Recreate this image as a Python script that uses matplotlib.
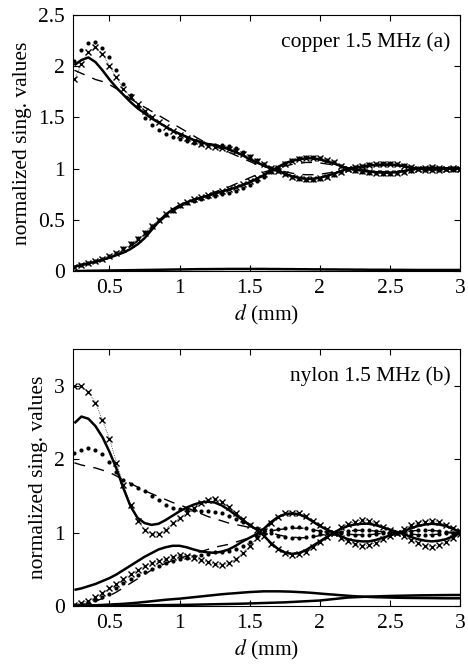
import numpy as np
import matplotlib
matplotlib.use("Agg")
import matplotlib.pyplot as plt

plt.rcParams["font.family"] = ["Liberation Serif", "DejaVu Serif"]
plt.rcParams["mathtext.fontset"] = "stix"
plt.rcParams["font.size"] = 15.5

# plate thickness grid (mm), step 0.05 from 0.25 to 3.00
d = np.round(np.arange(0.25, 3.001, 0.05), 2)

# ---------------- copper 1.5 MHz (a) ----------------
cu_sol_up = [2.01, 2.06, 2.085, 2.04, 1.96, 1.87, 1.79, 1.72, 1.65, 1.59,
             1.54, 1.49, 1.45, 1.41, 1.37, 1.34, 1.31, 1.28, 1.26, 1.24,
             1.23, 1.21, 1.19, 1.16, 1.13, 1.09, 1.06, 1.03, 1.005, 0.98,
             0.95, 0.925, 0.91, 0.90, 0.90, 0.91, 0.93, 0.95, 0.975, 1.0,
             1.01, 1.02, 1.03, 1.035, 1.04, 1.04, 1.035, 1.025, 1.01, 1.0,
             0.995, 0.99, 0.995, 1.0, 1.0, 1.0]
cu_sol_low = [0.04, 0.06, 0.075, 0.09, 0.11, 0.13, 0.155, 0.18, 0.215, 0.26,
              0.32, 0.40, 0.48, 0.55, 0.60, 0.64, 0.67, 0.695, 0.715, 0.735,
              0.755, 0.775, 0.795, 0.815, 0.84, 0.865, 0.90, 0.935, 0.975, 1.015,
              1.05, 1.075, 1.09, 1.10, 1.10, 1.09, 1.07, 1.05, 1.025, 1.0,
              0.99, 0.98, 0.97, 0.965, 0.96, 0.96, 0.965, 0.975, 0.99, 1.0,
              1.005, 1.01, 1.005, 1.0, 1.0, 1.0]
cu_sol_3 = [0.0, 0.0, 0.002, 0.003, 0.004, 0.005, 0.006, 0.007, 0.008, 0.009,
            0.01, 0.011, 0.012, 0.013, 0.014, 0.015, 0.016, 0.017, 0.018, 0.018,
            0.019, 0.019, 0.02, 0.02, 0.02, 0.02, 0.02, 0.02, 0.019, 0.019,
            0.018, 0.018, 0.017, 0.017, 0.016, 0.016, 0.015, 0.015, 0.014, 0.014,
            0.013, 0.013, 0.012, 0.012, 0.012, 0.011, 0.011, 0.011, 0.01, 0.01,
            0.01, 0.01, 0.01, 0.01, 0.01, 0.01]
cu_dash_up = [1.96, 1.93, 1.90, 1.87, 1.85, 1.82, 1.78, 1.73, 1.68, 1.64,
              1.60, 1.56, 1.52, 1.48, 1.44, 1.40, 1.36, 1.32, 1.28, 1.25,
              1.22, 1.19, 1.16, 1.13, 1.10, 1.07, 1.04, 1.02, 1.0, 0.985,
              0.97, 0.955, 0.945, 0.94, 0.94, 0.945, 0.955, 0.965, 0.98, 0.99,
              1.0, 1.01, 1.02, 1.025, 1.03, 1.03, 1.025, 1.02, 1.01, 1.0,
              0.995, 0.99, 0.995, 1.0, 1.0, 1.0]
cu_dash_low = [0.04, 0.055, 0.07, 0.085, 0.105, 0.13, 0.16, 0.195, 0.24, 0.29,
               0.35, 0.41, 0.47, 0.53, 0.58, 0.625, 0.66, 0.69, 0.72, 0.745,
               0.77, 0.795, 0.82, 0.85, 0.88, 0.91, 0.94, 0.965, 0.985, 1.005,
               1.025, 1.04, 1.05, 1.06, 1.06, 1.055, 1.045, 1.035, 1.02, 1.01,
               1.0, 0.99, 0.98, 0.975, 0.97, 0.97, 0.975, 0.98, 0.99, 1.0,
               1.005, 1.01, 1.005, 1.0, 1.0, 1.0]
cu_x_up = [1.87, 2.02, 2.14, 2.19, 2.12, 2.00, 1.89, 1.78, 1.70, 1.63,
           1.56, 1.50, 1.45, 1.41, 1.37, 1.33, 1.30, 1.27, 1.24, 1.22,
           1.21, 1.20, 1.19, 1.17, 1.14, 1.11, 1.07, 1.04, 1.01, 0.98,
           0.95, 0.92, 0.905, 0.895, 0.895, 0.905, 0.92, 0.945, 0.97, 1.0,
           1.015, 1.025, 1.035, 1.04, 1.045, 1.045, 1.04, 1.03, 1.015, 1.0,
           0.99, 0.985, 0.99, 1.0, 1.005, 1.0]
cu_x_low = [0.04, 0.06, 0.08, 0.10, 0.12, 0.15, 0.18, 0.21, 0.26, 0.31,
            0.37, 0.44, 0.50, 0.56, 0.60, 0.64, 0.67, 0.70, 0.72, 0.74,
            0.76, 0.78, 0.80, 0.82, 0.85, 0.88, 0.91, 0.945, 0.98, 1.01,
            1.045, 1.07, 1.09, 1.10, 1.105, 1.10, 1.085, 1.06, 1.03, 1.0,
            0.985, 0.975, 0.965, 0.96, 0.955, 0.955, 0.96, 0.97, 0.985, 1.0,
            1.01, 1.015, 1.01, 1.0, 0.995, 1.0]
cu_dot_up = [2.05, 2.16, 2.23, 2.24, 2.18, 2.09, 1.96, 1.83, 1.72, 1.60,
             1.49, 1.43, 1.38, 1.34, 1.31, 1.29, 1.27, 1.25, 1.24, 1.23,
             1.23, 1.23, 1.22, 1.20, 1.16, 1.12, 1.08, 1.04, 1.01, 0.98,
             0.95, 0.92, 0.90, 0.89, 0.89, 0.90, 0.915, 0.94, 0.97, 1.0,
             1.02, 1.03, 1.04, 1.045, 1.05, 1.05, 1.045, 1.035, 1.02, 1.005,
             0.99, 0.985, 0.99, 1.0, 1.01, 1.0]
cu_dot_low = [0.04, 0.06, 0.08, 0.10, 0.12, 0.15, 0.18, 0.22, 0.27, 0.32,
              0.38, 0.44, 0.50, 0.55, 0.59, 0.63, 0.66, 0.68, 0.70, 0.72,
              0.73, 0.75, 0.76, 0.78, 0.81, 0.84, 0.88, 0.92, 0.97, 1.01,
              1.05, 1.08, 1.10, 1.11, 1.11, 1.10, 1.085, 1.06, 1.03, 1.0,
              0.98, 0.97, 0.96, 0.955, 0.95, 0.95, 0.955, 0.965, 0.98, 0.995,
              1.01, 1.015, 1.01, 1.0, 0.99, 1.0]

# ---------------- nylon 1.5 MHz (b) ----------------
ny_sol_up = [2.49, 2.58, 2.55, 2.45, 2.30, 2.10, 1.87, 1.60, 1.36, 1.20,
             1.13, 1.105, 1.12, 1.17, 1.23, 1.29, 1.34, 1.38, 1.41, 1.42,
             1.41, 1.37, 1.31, 1.24, 1.17, 1.10, 1.04, 0.96, 0.86, 0.78,
             0.73, 0.71, 0.72, 0.76, 0.82, 0.88, 0.94, 1.00, 1.05, 1.09,
             1.11, 1.12, 1.12, 1.10, 1.07, 1.04, 1.01, 0.98, 0.94, 0.91,
             0.89, 0.88, 0.89, 0.91, 0.95, 0.99]
ny_sol_low = [0.22, 0.24, 0.27, 0.30, 0.34, 0.38, 0.43, 0.49, 0.55, 0.61,
              0.67, 0.72, 0.77, 0.80, 0.82, 0.82, 0.80, 0.77, 0.745, 0.73,
              0.725, 0.74, 0.77, 0.82, 0.88, 0.93, 0.98, 1.05, 1.14, 1.21,
              1.25, 1.26, 1.25, 1.21, 1.15, 1.09, 1.04, 1.0, 0.95, 0.91,
              0.89, 0.88, 0.88, 0.90, 0.93, 0.96, 0.99, 1.02, 1.06, 1.09,
              1.11, 1.12, 1.11, 1.09, 1.05, 1.01]
ny_sol_3 = [0.0, 0.005, 0.008, 0.01, 0.015, 0.02, 0.025, 0.03, 0.037, 0.045,
            0.055, 0.065, 0.075, 0.085, 0.093, 0.10, 0.11, 0.12, 0.13, 0.14,
            0.15, 0.16, 0.168, 0.175, 0.183, 0.19, 0.195, 0.2, 0.2, 0.2,
            0.198, 0.195, 0.19, 0.185, 0.178, 0.17, 0.162, 0.155, 0.147, 0.14,
            0.133, 0.128, 0.124, 0.12, 0.118, 0.115, 0.113, 0.111, 0.11, 0.109,
            0.108, 0.107, 0.106, 0.105, 0.105, 0.105]
ny_sol_4 = [0.0, 0.0, 0.001, 0.001, 0.002, 0.003, 0.004, 0.005, 0.006, 0.008,
            0.01, 0.011, 0.012, 0.013, 0.014, 0.015, 0.016, 0.018, 0.02, 0.022,
            0.024, 0.026, 0.028, 0.03, 0.032, 0.035, 0.038, 0.041, 0.044, 0.047,
            0.05, 0.055, 0.06, 0.065, 0.07, 0.075, 0.085, 0.095, 0.105, 0.115,
            0.12, 0.124, 0.128, 0.131, 0.134, 0.137, 0.139, 0.141, 0.143, 0.145,
            0.146, 0.147, 0.148, 0.149, 0.15, 0.15]
ny_dash_up = [1.95, 1.92, 1.90, 1.88, 1.85, 1.82, 1.77, 1.72, 1.67, 1.62,
              1.57, 1.53, 1.49, 1.45, 1.41, 1.38, 1.34, 1.30, 1.26, 1.22,
              1.19, 1.16, 1.13, 1.11, 1.09, 1.07, 1.05, 1.03, 1.0, 0.97,
              0.95, 0.94, 0.93, 0.93, 0.94, 0.96, 0.98, 1.0, 1.01, 1.02,
              1.03, 1.03, 1.03, 1.02, 1.01, 1.0, 1.0, 0.99, 0.98, 0.97,
              0.97, 0.97, 0.98, 0.99, 1.0, 1.0]
ny_dash_low = [0.01, 0.02, 0.04, 0.07, 0.10, 0.14, 0.19, 0.25, 0.31, 0.37,
               0.43, 0.49, 0.54, 0.58, 0.62, 0.65, 0.68, 0.71, 0.74, 0.77,
               0.80, 0.82, 0.84, 0.87, 0.90, 0.93, 0.96, 0.99, 1.02, 1.04,
               1.05, 1.06, 1.06, 1.06, 1.04, 1.02, 1.01, 1.0, 0.99, 0.98,
               0.97, 0.97, 0.97, 0.98, 0.99, 1.0, 1.0, 1.01, 1.02, 1.03,
               1.03, 1.03, 1.02, 1.01, 1.0, 1.0]
ny_x_up = [2.99, 2.99, 2.92, 2.77, 2.53, 2.28, 1.95, 1.65, 1.38, 1.16,
           1.04, 0.98, 0.98, 1.04, 1.13, 1.20, 1.27, 1.34, 1.40, 1.45,
           1.46, 1.42, 1.35, 1.27, 1.19, 1.11, 1.04, 0.95, 0.85, 0.77,
           0.72, 0.70, 0.71, 0.74, 0.80, 0.87, 0.94, 1.0, 1.07, 1.12,
           1.15, 1.17, 1.16, 1.13, 1.08, 1.04, 1.0, 0.95, 0.90, 0.86,
           0.82, 0.81, 0.83, 0.87, 0.93, 0.98]
ny_x_low = [0.02, 0.04, 0.07, 0.12, 0.18, 0.24, 0.30, 0.37, 0.43, 0.49,
            0.54, 0.58, 0.61, 0.64, 0.67, 0.69, 0.68, 0.65, 0.62, 0.60,
            0.57, 0.56, 0.58, 0.64, 0.72, 0.82, 0.92, 1.02, 1.13, 1.21,
            1.26, 1.27, 1.26, 1.22, 1.16, 1.10, 1.05, 1.0, 0.93, 0.88,
            0.84, 0.82, 0.83, 0.86, 0.91, 0.96, 1.0, 1.05, 1.10, 1.13,
            1.15, 1.16, 1.14, 1.11, 1.06, 1.02]
ny_dot_up = [2.08, 2.13, 2.15, 2.13, 2.07, 1.96, 1.82, 1.71, 1.66, 1.61,
             1.56, 1.50, 1.44, 1.38, 1.34, 1.32, 1.31, 1.31, 1.30, 1.29,
             1.28, 1.26, 1.23, 1.19, 1.15, 1.10, 1.06, 1.03, 0.99, 0.96,
             0.94, 0.93, 0.93, 0.94, 0.96, 0.98, 0.99, 1.0, 1.01, 1.02,
             1.03, 1.03, 1.03, 1.02, 1.01, 1.0, 1.0, 0.99, 0.98, 0.97,
             0.97, 0.97, 0.98, 0.99, 1.0, 1.0]
ny_dot_low = [0.01, 0.03, 0.05, 0.08, 0.12, 0.17, 0.24, 0.31, 0.37, 0.42,
              0.47, 0.51, 0.55, 0.58, 0.61, 0.635, 0.66, 0.68, 0.70, 0.715,
              0.73, 0.74, 0.755, 0.78, 0.82, 0.87, 0.94, 1.0, 1.03, 1.05,
              1.06, 1.07, 1.07, 1.06, 1.04, 1.02, 1.01, 1.0, 0.99, 0.98,
              0.97, 0.97, 0.97, 0.98, 0.99, 1.0, 1.0, 1.01, 1.02, 1.03,
              1.03, 1.03, 1.02, 1.01, 1.0, 1.0]

x_ticks = [0.5, 1, 1.5, 2, 2.5, 3]
x_ticklabels = ["0.5", "1", "1.5", "2", "2.5", "3"]
cu_yticks = [0, 0.5, 1, 1.5, 2, 2.5]
cu_yticklabels = ["0", "0.5", "1", "1.5", "2", "2.5"]
ny_yticks = [0, 1, 2, 3]
ny_yticklabels = ["0", "1", "2", "3"]


def draw(ax, solids, dashes, xs, dots):
    for s in solids:
        ax.plot(d, s, color="black", lw=1.8, solid_capstyle="butt")
    for s in dashes:
        ax.plot(d, s, color="black", lw=1.0, linestyle=(0, (8, 6)))
    for s in xs:
        ax.plot(d, s, color="black", lw=0.5, linestyle=":", marker="x",
                ms=5, mew=1.0)
    for s in dots:
        ax.plot(d, s, color="black", lw=0, marker="o", ms=3.0, mew=0)


def style(ax, yticks, yticklabels, ylim, label):
    ax.set_xlim(0.24, 3.0)
    ax.set_ylim(*ylim)
    ax.set_xticks(x_ticks)
    ax.set_xticklabels(x_ticklabels)
    ax.set_yticks(yticks)
    ax.set_yticklabels(yticklabels)
    ax.tick_params(direction="in", top=True, right=True, length=4,
                   width=0.8, pad=6)
    for sp in ax.spines.values():
        sp.set_linewidth(0.8)
    ax.set_xlabel("$d$ (mm)", labelpad=3)
    ax.set_ylabel("normalized sing. values", labelpad=4)
    ax.text(0.975, 0.895, label, transform=ax.transAxes,
            ha="right", va="center")


fig = plt.figure(figsize=(4.68, 6.65), dpi=100)
ax1 = fig.add_axes([0.156, 0.5925, 0.827, 0.385])
ax2 = fig.add_axes([0.156, 0.0887, 0.827, 0.3865])

draw(ax1, [cu_sol_up, cu_sol_low, cu_sol_3], [cu_dash_up, cu_dash_low],
     [cu_x_up, cu_x_low], [cu_dot_up, cu_dot_low])
style(ax1, cu_yticks, cu_yticklabels, (0, 2.5), "copper 1.5 MHz (a)")

draw(ax2, [ny_sol_up, ny_sol_low, ny_sol_3, ny_sol_4],
     [ny_dash_up, ny_dash_low], [ny_x_up, ny_x_low], [ny_dot_up, ny_dot_low])
style(ax2, ny_yticks, ny_yticklabels, (0, 3.5), "nylon 1.5 MHz (b)")

fig.savefig("out.png", dpi=100)
